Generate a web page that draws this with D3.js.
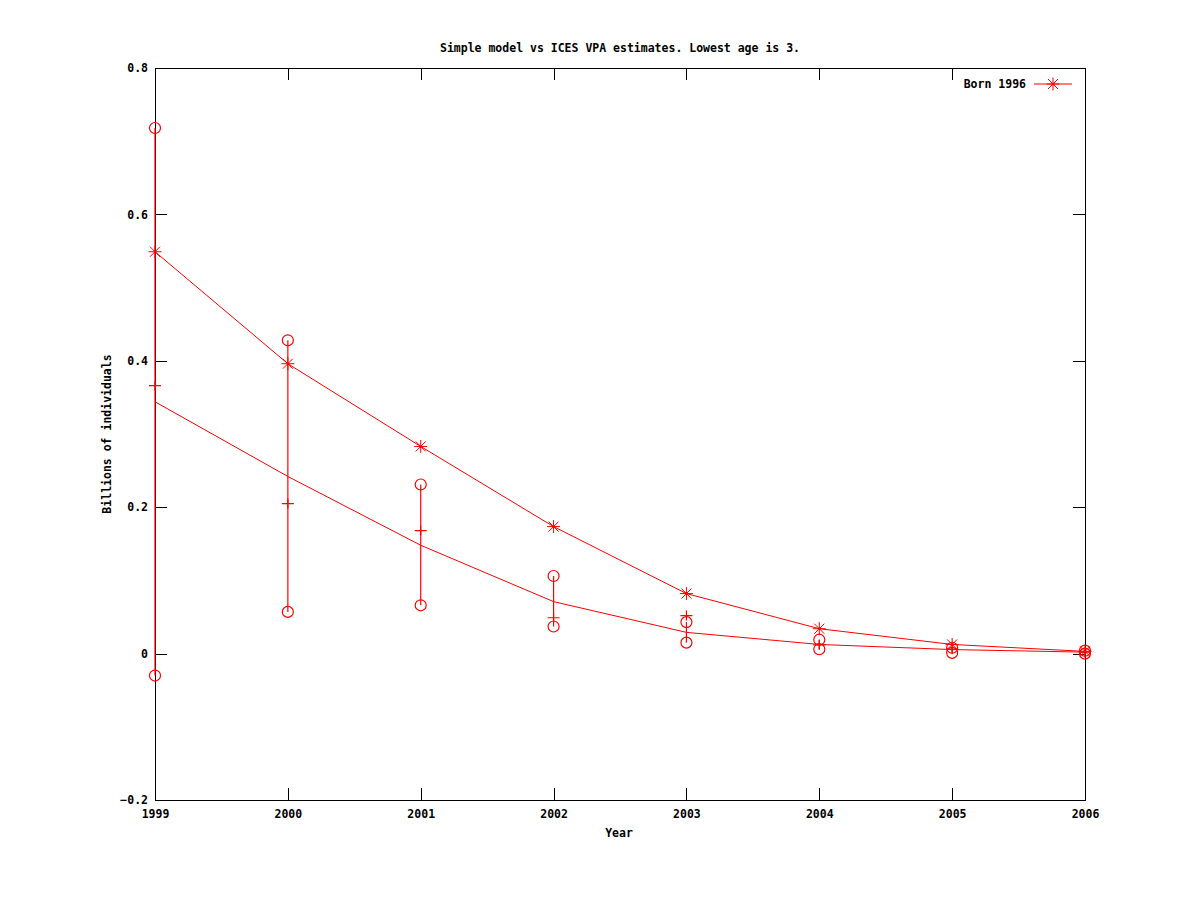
<!DOCTYPE html>
<html><head><meta charset="utf-8">
<script src="https://cdn.jsdelivr.net/npm/d3@7"></script>
<style>body{margin:0;background:#fff}svg{display:block}text{font-family:"DejaVu Sans Mono","Liberation Mono",monospace;font-weight:bold;font-size:11.5px;fill:#000}</style>
</head><body><svg id="c" width="1200" height="900"></svg>
<script>
const years = [1999, 2000, 2001, 2002, 2003, 2004, 2005, 2006];
const born1996 = [0.549, 0.396, 0.283, 0.1735, 0.082, 0.034, 0.0125, 0.003];
const modelLine = [0.344, 0.242, 0.148, 0.071, 0.029, 0.0125, 0.0055, 0.002];
const vpaHigh = [0.718, 0.428, 0.231, 0.106, 0.043, 0.019, 0.008, 0.004];
const vpaLow = [-0.030, 0.057, 0.066, 0.037, 0.015, 0.006, 0.001, 0.000];
const vpaMark = [0.366, 0.205, 0.168, 0.049, 0.052, 0.012, 0.006, 0.002];
const yTicks = [-0.2, 0, 0.2, 0.4, 0.6, 0.8];
const xTicks = years;
const title = "Simple model vs ICES VPA estimates. Lowest age is 3.";
const xLabel = "Year", yLabel = "Billions of individuals", legendLabel = "Born 1996";

const svg = d3.select("#c");
const L = 155, R = 1085, T = 68, B = 800;
const x = d3.scaleLinear().domain([1999, 2006]).range([L, R]);
const y = d3.scaleLinear().domain([-0.2, 0.8]).range([B, T]);
const red = "#ff0000";
const yFmt = d => d === 0 ? "0" : d3.format(".1f")(d);

// axes
const gB = svg.append("g").attr("transform", `translate(0,${B})`)
  .call(d3.axisBottom(x).tickValues(xTicks).tickFormat(d3.format("d")).tickSizeInner(-12).tickSizeOuter(0).tickPadding(10));
const gT = svg.append("g").attr("transform", `translate(0,${T})`)
  .call(d3.axisTop(x).tickValues(xTicks).tickFormat("").tickSizeInner(-12).tickSizeOuter(0));
const gL = svg.append("g").attr("transform", `translate(${L},0)`)
  .call(d3.axisLeft(y).tickValues(yTicks).tickFormat(yFmt).tickSizeInner(-12).tickSizeOuter(0).tickPadding(7));
const gR = svg.append("g").attr("transform", `translate(${R},0)`)
  .call(d3.axisRight(y).tickValues(yTicks).tickFormat("").tickSizeInner(-12).tickSizeOuter(0));
[gB, gT, gL, gR].forEach(g => {
  g.select(".domain").remove();
  g.selectAll("line").attr("stroke", "#000").attr("shape-rendering", "crispEdges");
  g.selectAll("text").attr("font-family", null).attr("font-size", null).style("fill", "#000");
});
svg.append("rect").attr("x", L).attr("y", T).attr("width", R - L).attr("height", B - T)
  .attr("fill", "none").attr("stroke", "#000").attr("shape-rendering", "crispEdges");

// labels
svg.append("text").attr("x", 620).attr("y", 52).attr("text-anchor", "middle").text(title);
svg.append("text").attr("x", 619).attr("y", 837).attr("text-anchor", "middle").text(xLabel);
svg.append("text").attr("transform", "translate(111,434) rotate(-90)").attr("text-anchor", "middle").text(yLabel);

const plot = svg.append("g");
const line = d3.line().x(d => x(d[0])).y(d => y(d[1]));

// model line
plot.append("path").datum(years.map((yr, i) => [yr, modelLine[i]]))
  .attr("d", line).attr("fill", "none").attr("stroke", red).attr("stroke-width", 1);
// born 1996 line
plot.append("path").datum(years.map((yr, i) => [yr, born1996[i]]))
  .attr("d", line).attr("fill", "none").attr("stroke", red).attr("stroke-width", 1);

// error bars
years.forEach((yr, i) => {
  plot.append("line").attr("x1", x(yr)).attr("x2", x(yr)).attr("y1", y(vpaLow[i])).attr("y2", y(vpaHigh[i]))
    .attr("stroke", red).attr("stroke-width", 1.2);
  [vpaLow[i], vpaHigh[i]].forEach(v => {
    plot.append("circle").attr("cx", x(yr)).attr("cy", y(v)).attr("r", 5.5)
      .attr("fill", "none").attr("stroke", red).attr("stroke-width", 1.2);
  });
  const px = x(yr), py = y(vpaMark[i]);
  plot.append("path").attr("d", `M${px - 6},${py}H${px + 6}M${px},${py - 5}V${py + 5}`)
    .attr("stroke", red).attr("stroke-width", 1.2).attr("fill", "none");
});

function asterisk(g, cx, cy) {
  const s = 6.5, d = 5;
  g.append("path").attr("d",
    `M${cx - s},${cy}H${cx + s}M${cx},${cy - s}V${cy + s}M${cx - d},${cy - d}L${cx + d},${cy + d}M${cx - d},${cy + d}L${cx + d},${cy - d}`)
    .attr("stroke", red).attr("stroke-width", 1).attr("fill", "none");
  g.append("circle").attr("cx", cx).attr("cy", cy).attr("r", 1.3).attr("fill", red);
}
years.forEach((yr, i) => asterisk(plot, x(yr), y(born1996[i])));

// legend
svg.append("text").attr("x", 1026).attr("y", 88).attr("text-anchor", "end").text(legendLabel);
svg.append("line").attr("x1", 1034).attr("x2", 1072).attr("y1", 84).attr("y2", 84).attr("stroke", red);
asterisk(svg, 1053, 84);
</script></body></html>
